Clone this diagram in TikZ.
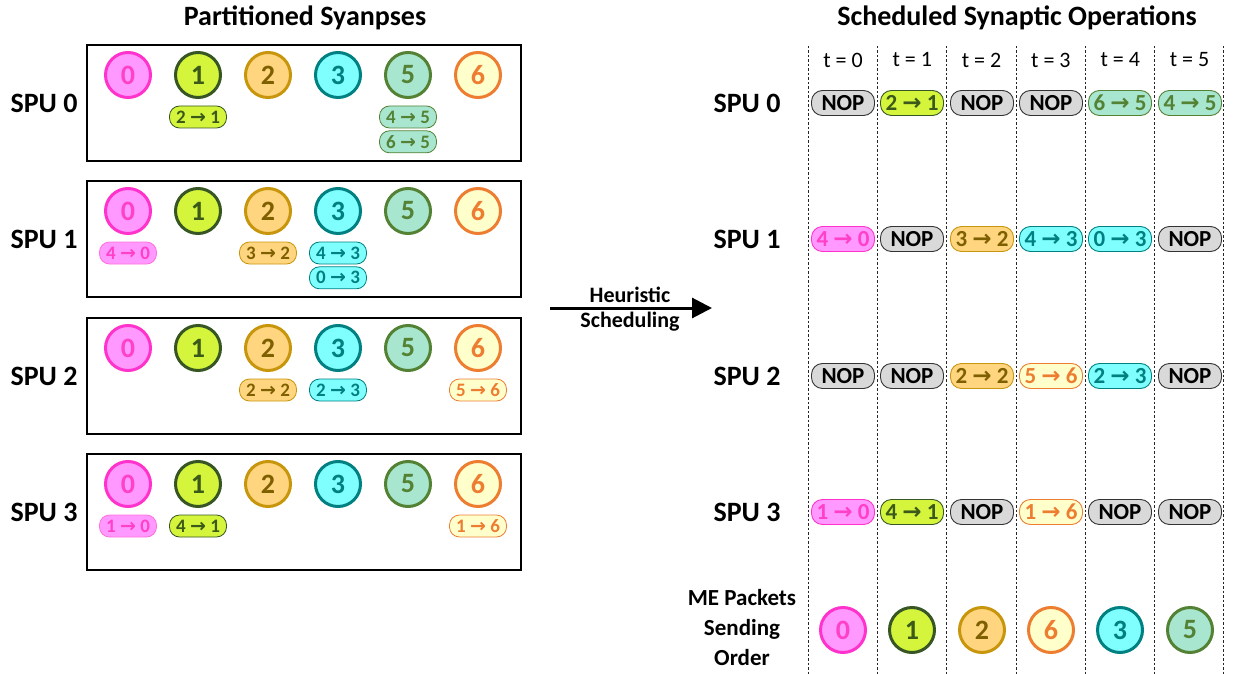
\documentclass[tikz,border=0pt]{standalone}
\usepackage{fontspec}
\setmainfont{Carlito}
\newfontfamily\arrowfont{DejaVu Sans}
\usetikzlibrary{positioning,arrows.meta}

% neuron colours (fill / line / text)
\definecolor{n0fill}{HTML}{FF99FF}
\definecolor{n0line}{HTML}{FF33CC}
\definecolor{n0text}{HTML}{FF40C8}
\definecolor{n1fill}{HTML}{D4F53C}
\definecolor{n1line}{HTML}{375623}
\definecolor{n1text}{HTML}{3B5A1A}
\definecolor{n2fill}{HTML}{FFD580}
\definecolor{n2line}{HTML}{C8960C}
\definecolor{n2text}{HTML}{7F6000}
\definecolor{n3fill}{HTML}{80FFFF}
\definecolor{n3line}{HTML}{008080}
\definecolor{n3text}{HTML}{008080}
\definecolor{n5fill}{HTML}{A9E6D0}
\definecolor{n5line}{HTML}{548235}
\definecolor{n5text}{HTML}{548235}
\definecolor{n6fill}{HTML}{FFFFCC}
\definecolor{n6line}{HTML}{ED7D31}
\definecolor{n6text}{HTML}{ED7D31}
\definecolor{nopfill}{HTML}{D9D9D9}

\newcommand\synop[2]{#1 {\arrowfont\bfseries →} #2}
\newcommand\titlefont{\fontsize{28}{30}\selectfont\bfseries}
\newcommand\spufont{\fontsize{28}{30}\selectfont\bfseries}

\begin{document}
\begin{tikzpicture}[
  x=1pt, y=-1pt,
  neuron/.style={
    circle, minimum size=45pt, inner sep=0pt, line width=3pt,
    font=\fontsize{28}{28}\selectfont\bfseries
  },
  synl/.style={
    rectangle, rounded corners=10pt, minimum width=57pt, minimum height=22pt,
    inner sep=0pt, line width=0.8pt, font=\fontsize{19}{19}\selectfont\bfseries
  },
  slot/.style={
    rectangle, rounded corners=11pt, minimum width=63pt, minimum height=25pt,
    inner sep=0pt, line width=0.9pt, font=\fontsize{23}{23}\selectfont\bfseries
  },
  spubox/.style={
    rectangle, draw=black, line width=1.1pt,
    minimum width=434pt, minimum height=116pt, inner sep=0pt
  },
  spulabel/.style={font=\spufont},
  col0/.style={fill=n0fill, draw=n0line, text=n0text},
  col1/.style={fill=n1fill, draw=n1line, text=n1text},
  col2/.style={fill=n2fill, draw=n2line, text=n2text},
  col3/.style={fill=n3fill, draw=n3line, text=n3text},
  col5/.style={fill=n5fill, draw=n5line, text=n5text},
  col6/.style={fill=n6fill, draw=n6line, text=n6text},
  colnop/.style={fill=nopfill, draw=black!80, text=black},
  timeline/.style={dashed, dash pattern=on 2.5pt off 2pt, line width=0.7pt, black!85},
  arrow/.style={-{Triangle[length=20pt, width=20pt]}, line width=3pt}
]
\useasboundingbox (0,0) rectangle (1234,674);

% === Titles ===
\node[font=\titlefont, anchor=base] (ltitle) at (305,26) {Partitioned Syanpses};
\node[font=\titlefont, anchor=base] (rtitle) at (1017,26) {Scheduled Synaptic Operations};

% === Partitioned synapses (left) ===
\foreach \b/\y in {0/103, 1/239, 2/376, 3/512} {
  \node[spubox] (box\b) at (304,\y) {};
  \node[spulabel] (lab\b) at (44,\y) {SPU \b};
  \foreach \n/\x in {0/128, 1/198, 2/268, 3/338, 5/408, 6/478}
    \node[neuron, col\n] (b\b n\n) at (\x,\y-28) {\n};
}

% SPU 0
\node[synl, col1] (b0s21) at (198,117) {\synop{2}{1}};
\node[synl, col5] (b0s45) at (408,117) {\synop{4}{5}};
\node[synl, col5, below=2pt of b0s45] (b0s65) {\synop{6}{5}};

% SPU 1
\node[synl, col0, draw=n0line!70] (b1s40) at (128,253) {\synop{4}{0}};
\node[synl, col2] (b1s32) at (268,253) {\synop{3}{2}};
\node[synl, col3] (b1s43) at (338,253) {\synop{4}{3}};
\node[synl, col3, below=2pt of b1s43] (b1s03) {\synop{0}{3}};

% SPU 2
\node[synl, col2] (b2s22) at (268,390) {\synop{2}{2}};
\node[synl, col3] (b2s23) at (338,390) {\synop{2}{3}};
\node[synl, col6] (b2s56) at (478,390) {\synop{5}{6}};

% SPU 3
\node[synl, col0, draw=n0line!70] (b3s10) at (128,526) {\synop{1}{0}};
\node[synl, col1] (b3s41) at (198,526) {\synop{4}{1}};
\node[synl, col6] (b3s16) at (478,526) {\synop{1}{6}};

% === Heuristic scheduling arrow ===
\coordinate (hs start) at (550,308);
\coordinate (hs end) at (712,308);
\draw[arrow] (hs start) -- (hs end);
\node[font=\fontsize{22}{22}\selectfont\bfseries, anchor=base] (hs top) at (630,302) {Heuristic};
\node[font=\fontsize{22}{22}\selectfont\bfseries, anchor=base] (hs bot) at (630,327) {Scheduling};

% === Time slots (right) ===
\foreach \k in {0,...,6}
  \draw[timeline] ({808+69.3*\k},46) -- ({808+69.3*\k},674);
\foreach \k in {0,...,5}
  \node[font=\fontsize{22}{22}\selectfont] (t\k) at ({843+69.3*\k},60) {t = \k};

\node[spulabel] (rlab0) at (747,103) {SPU 0};
\node[spulabel] (rlab1) at (747,239) {SPU 1};
\node[spulabel] (rlab2) at (747,376) {SPU 2};
\node[spulabel] (rlab3) at (747,512) {SPU 3};

% SPU 0
\node[slot, colnop] (r0t0) at (843,103) {NOP};
\node[slot, col1] (r0t1) at (912,103) {\synop{2}{1}};
\node[slot, colnop] (r0t2) at (982,103) {NOP};
\node[slot, colnop] (r0t3) at (1051,103) {NOP};
\node[slot, col5] (r0t4) at (1120,103) {\synop{6}{5}};
\node[slot, col5] (r0t5) at (1190,103) {\synop{4}{5}};

% SPU 1
\node[slot, col0] (r1t0) at (843,239) {\synop{4}{0}};
\node[slot, colnop] (r1t1) at (912,239) {NOP};
\node[slot, col2] (r1t2) at (982,239) {\synop{3}{2}};
\node[slot, col3] (r1t3) at (1051,239) {\synop{4}{3}};
\node[slot, col3] (r1t4) at (1120,239) {\synop{0}{3}};
\node[slot, colnop] (r1t5) at (1190,239) {NOP};

% SPU 2
\node[slot, colnop] (r2t0) at (843,376) {NOP};
\node[slot, colnop] (r2t1) at (912,376) {NOP};
\node[slot, col2] (r2t2) at (982,376) {\synop{2}{2}};
\node[slot, col6] (r2t3) at (1051,376) {\synop{5}{6}};
\node[slot, col3] (r2t4) at (1120,376) {\synop{2}{3}};
\node[slot, colnop] (r2t5) at (1190,376) {NOP};

% SPU 3
\node[slot, col0] (r3t0) at (843,512) {\synop{1}{0}};
\node[slot, col1] (r3t1) at (912,512) {\synop{4}{1}};
\node[slot, colnop] (r3t2) at (982,512) {NOP};
\node[slot, col6] (r3t3) at (1051,512) {\synop{1}{6}};
\node[slot, colnop] (r3t4) at (1120,512) {NOP};
\node[slot, colnop] (r3t5) at (1190,512) {NOP};

% === ME packet order ===
\node[font=\fontsize{23}{30}\selectfont\bfseries, align=center] (order) at (742,628)
  {ME Packets\\Sending\\Order};
\node[neuron, col0] (o0) at (843,630) {0};
\node[neuron, col1] (o1) at (912,630) {1};
\node[neuron, col2] (o2) at (982,630) {2};
\node[neuron, col6] (o3) at (1051,630) {6};
\node[neuron, col3] (o4) at (1120,630) {3};
\node[neuron, col5] (o5) at (1190,630) {5};

\end{tikzpicture}
\end{document}
